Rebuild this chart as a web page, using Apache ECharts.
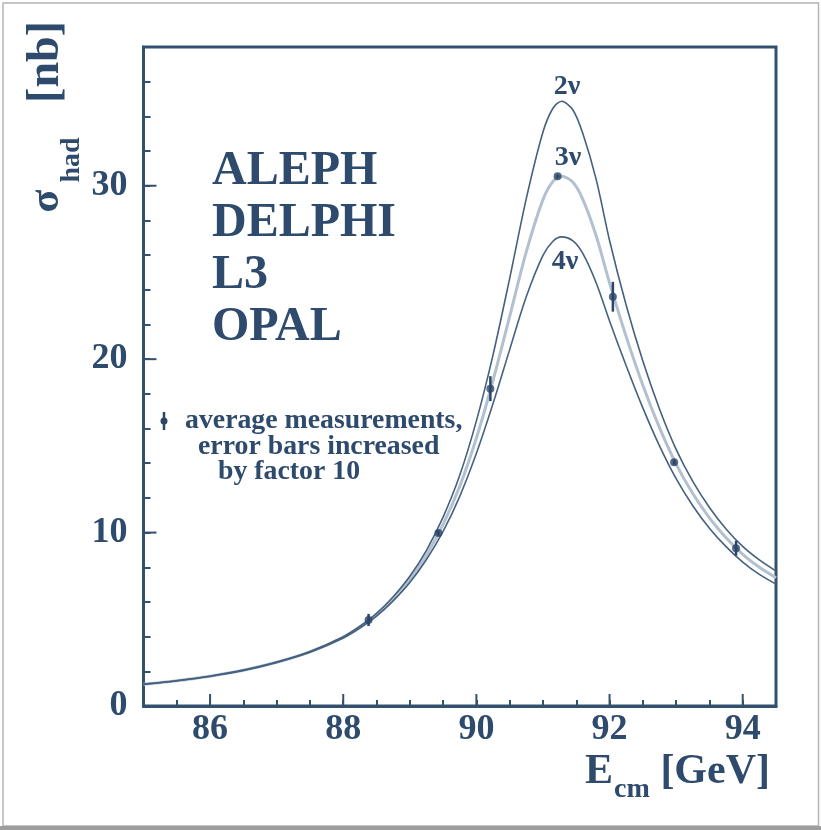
<!DOCTYPE html>
<html>
<head>
<meta charset="utf-8">
<script src="https://cdn.jsdelivr.net/npm/echarts@6/dist/echarts.min.js"></script>
<style>
html,body{margin:0;padding:0;background:#fff;}
#chart{width:821px;height:830px;}
</style>
</head>
<body>
<div id="chart"></div>
<script>
// ---- data ----
const energy = [85, 85.5, 86, 86.5, 87, 87.5, 88, 88.25, 88.5, 88.75, 89, 89.25, 89.5, 89.75, 90, 90.25, 90.5, 90.75, 91, 91.15, 91.28, 91.45, 91.6, 91.8, 92, 92.25, 92.5, 92.75, 93, 93.25, 93.5, 93.75, 94, 94.25, 94.5];
const sigma2nu = [1.26, 1.46, 1.72, 2.07, 2.53, 3.14, 4.0, 4.6, 5.34, 6.3, 7.48, 8.98, 10.89, 13.3, 16.44, 20.25, 24.66, 29.27, 33.1, 34.47, 34.87, 34.37, 33.0, 30.35, 26.84, 23.11, 19.89, 17.13, 14.8, 12.95, 11.45, 10.21, 9.2, 8.42, 7.78];
const sigma3nu = [1.26, 1.46, 1.72, 2.06, 2.52, 3.12, 3.96, 4.54, 5.26, 6.18, 7.3, 8.7, 10.47, 12.67, 15.45, 18.77, 22.46, 26.2, 29.2, 30.25, 30.55, 30.2, 29.2, 27.1, 24.4, 21.3, 18.5, 16.05, 13.95, 12.25, 10.85, 9.7, 8.75, 8.0, 7.4];
const sigma4nu = [1.26, 1.46, 1.72, 2.05, 2.51, 3.1, 3.92, 4.49, 5.18, 6.06, 7.12, 8.45, 10.07, 12.09, 14.57, 17.44, 20.55, 23.61, 25.99, 26.8, 27.05, 26.82, 26.08, 24.39, 22.2, 19.62, 17.19, 15.0, 13.11, 11.55, 10.25, 9.19, 8.3, 7.59, 7.03];

const measEnergy = [88.38, 89.43, 90.21, 91.22, 92.05, 92.97, 93.9];
const measSigma = [4.96, 9.97, 18.3, 30.55, 23.6, 14.06, 9.1];
const measErr = [0.35, 0.15, 0.72, 0.1, 0.86, 0.15, 0.43];

const xMajorTicks = [86, 88, 90, 92, 94];
const yMajorTicks = [10, 20, 30];

const experiments = ['ALEPH', 'DELPHI', 'L3', 'OPAL'];
const legendLines = ['average measurements,', 'error bars increased', 'by factor 10'];
const curveLabels = ['2ν', '3ν', '4ν'];

// ---- style ----
const NAVY = '#2e4a6c';
const AXIS = '#34506f';
const SERIF = "'Liberation Serif', 'DejaVu Serif', serif";

const chart = echarts.init(document.getElementById('chart'), null, {renderer: 'canvas'});

function pairs(xs, ys) { return xs.map((x, i) => [x, ys[i]]); }

const txt = (text, x, y, size, opts) => Object.assign({
  type: 'text', x: x, y: y, silent: true, z: 50,
  style: Object.assign({
    text: text, fill: NAVY, font: 'bold ' + size + 'px ' + SERIF,
    align: 'left', verticalAlign: 'middle'
  }, (opts && opts.style) || {})
}, (opts && opts.el) || {});

const curve = (name, ys, color, width, z) => ({
  name: name, type: 'line', data: pairs(energy, ys), smooth: 0.3,
  symbol: 'none', lineStyle: {color: color, width: width}, z: z, silent: true
});

const option = {
  animation: false,
  backgroundColor: '#ffffff',
  grid: {
    left: 143.5, right: 45, top: 47, bottom: 124,
    show: true, borderColor: AXIS, borderWidth: 3, backgroundColor: 'transparent'
  },
  xAxis: {
    type: 'value', min: 85, max: 94.5, interval: 0.5,
    axisLine: {show: true, onZero: false, lineStyle: {color: AXIS, width: 3}},
    axisTick: {show: true, inside: true, length: 6, lineStyle: {color: AXIS, width: 2}},
    splitLine: {show: false},
    axisLabel: {
      margin: 6, color: NAVY, fontFamily: SERIF, fontWeight: 'bold', fontSize: 36,
      hideOverlap: false, showMinLabel: true, showMaxLabel: true,
      formatter: v => (xMajorTicks.indexOf(v) >= 0 ? String(v) : '')
    }
  },
  yAxis: {
    type: 'value', min: 0, max: 38, interval: 2,
    axisLine: {show: true, onZero: false, lineStyle: {color: AXIS, width: 3}},
    axisTick: {show: true, inside: true, length: 7, lineStyle: {color: AXIS, width: 2}},
    splitLine: {show: false},
    axisLabel: {
      margin: 16, color: NAVY, fontFamily: SERIF, fontWeight: 'bold', fontSize: 36,
      formatter: v => (v % 10 === 0 ? String(v) : '')
    }
  },
  series: [
    curve('3ν', sigma3nu, '#b3c0cf', 3, 3),
    curve('2ν', sigma2nu, '#45617f', 1.6, 4),
    curve('4ν', sigma4nu, '#45617f', 1.6, 4),
    {
      name: 'errors', type: 'custom', z: 6, silent: true,
      data: measEnergy.map((e, i) => [e, measSigma[i], measErr[i]]),
      renderItem: function (params, api) {
        const x = api.value(0), y = api.value(1), e = api.value(2);
        const top = api.coord([x, y + e]);
        const bot = api.coord([x, y - e]);
        return {type: 'line', shape: {x1: top[0], y1: top[1], x2: bot[0], y2: bot[1]},
                style: {stroke: '#2b4566', lineWidth: 2.5}};
      }
    },
    {
      name: 'measurements', type: 'scatter', z: 7, silent: true,
      data: pairs(measEnergy, measSigma), symbol: 'circle', symbolSize: 8,
      itemStyle: {color: '#2b4566'}
    },
    {
      name: 'xMajor', type: 'custom', z: 8, silent: true, clip: false,
      data: xMajorTicks.map(v => [v, 0]),
      renderItem: function (params, api) {
        const p = api.coord([api.value(0), 0]);
        return {type: 'line', shape: {x1: p[0], y1: p[1], x2: p[0], y2: p[1] - 12},
                style: {stroke: AXIS, lineWidth: 2}};
      }
    },
    {
      name: 'yMajor', type: 'custom', z: 8, silent: true, clip: false,
      data: yMajorTicks.map(v => [85, v]),
      renderItem: function (params, api) {
        const p = api.coord([85, api.value(1)]);
        return {type: 'line', shape: {x1: p[0], y1: p[1], x2: p[0] + 13, y2: p[1]},
                style: {stroke: AXIS, lineWidth: 2}};
      }
    }
  ],
  graphic: [
    // outer frame
    {type: 'rect', silent: true, z: 1, shape: {x: 3, y: 3, width: 815.5, height: 823},
     style: {fill: null, stroke: '#b4b4b4', lineWidth: 1.5}},
    {type: 'rect', silent: true, z: 1, shape: {x: 0, y: 826, width: 821, height: 4},
     style: {fill: '#9e9e9e'}},
    // experiment names
    txt(experiments.join('\n'), 212, 250, 48, {style: {lineHeight: 52}}),
    // legend marker
    {type: 'line', silent: true, z: 50, shape: {x1: 164, y1: 412, x2: 164, y2: 430},
     style: {stroke: '#2b4566', lineWidth: 2.5}},
    {type: 'circle', silent: true, z: 50, shape: {cx: 164, cy: 421, r: 3.5},
     style: {fill: '#2b4566'}},
    txt(legendLines[0], 185, 421, 27.8),
    txt(legendLines[1], 198, 447, 27.8),
    txt(legendLines[2], 218, 472, 27.8),
    // curve labels
    txt(curveLabels[0], 567, 87, 28, {style: {align: 'center'}}),
    txt(curveLabels[1], 568, 158, 28, {style: {align: 'center'}}),
    txt(curveLabels[2], 565, 262, 28, {style: {align: 'center'}}),
    // x axis name
    txt('E', 585, 772, 42),
    txt('cm', 614, 790, 28),
    txt('[GeV]', 770, 772, 42, {style: {align: 'right'}}),
    // y axis name (rotated)
    txt('σ', 47, 201, 42, {el: {rotation: Math.PI / 2}, style: {align: 'center'}}),
    txt('had', 72, 160, 28, {el: {rotation: Math.PI / 2}, style: {align: 'center'}}),
    txt('[nb]', 46, 62, 46, {el: {rotation: Math.PI / 2}, style: {align: 'center'}})
  ]
};

chart.setOption(option);
</script>
</body>
</html>
